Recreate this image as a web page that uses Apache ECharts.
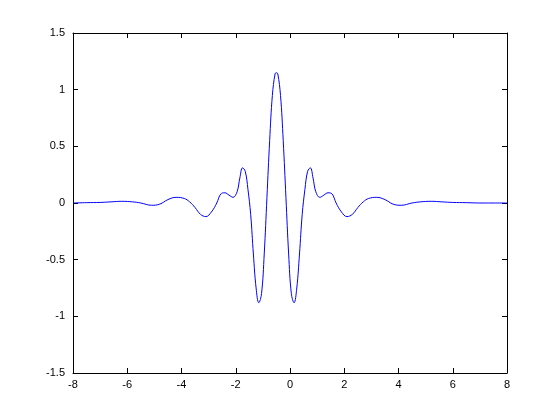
<!DOCTYPE html>
<html><head><meta charset="utf-8">
<script src="https://cdn.jsdelivr.net/npm/echarts@6/dist/echarts.min.js"></script>
<style>html,body{margin:0;background:#fff}#c{width:560px;height:420px}</style>
</head><body><div id="c"></div>
<script>
const xs = [-8,-7.5,-7,-6.6,-6.2,-5.8,-5.5,-5.1,-4.8,-4.5,-4.2,-3.9,-3.7,-3.5,-3.3,-3.1,-2.9,-2.7,-2.55,-2.4,-2.25,-2.1,-1.95,-1.85,-1.75,-1.65,-1.55,-1.45,-1.35,-1.25,-1.15,-1.05,-0.95,-0.85,-0.75,-0.65,-0.55,-0.5,
 -0.45,-0.35,-0.25,-0.15,-0.05,0.05,0.15,0.25,0.35,0.45,0.55,0.65,0.75,0.85,0.95,1.1,1.25,1.4,1.55,1.7,1.9,2.1,2.3,2.5,2.7,2.9,3.2,3.5,3.8,4.1,4.5,4.8,5.2,5.6,6,6.5,7,8];
const ys = [0,0.003,0.005,0.01,0.015,0.01,0,-0.02,-0.01,0.03,0.05,0.04,0.01,-0.04,-0.1,-0.12,-0.08,0,0.08,0.09,0.07,0.05,0.1,0.22,0.31,0.28,0.12,-0.1,-0.45,-0.75,-0.88,-0.8,-0.45,0.05,0.55,0.95,1.14,1.15,
 1.14,0.95,0.55,0.05,-0.45,-0.8,-0.88,-0.75,-0.45,-0.1,0.12,0.28,0.31,0.22,0.1,0.05,0.07,0.09,0.08,0,-0.08,-0.12,-0.1,-0.04,0.01,0.04,0.05,0.03,-0.01,-0.02,0,0.01,0.015,0.01,0.005,0.003,0,0];
const xTicks = [-8,-6,-4,-2,0,2,4,6,8];
const yTicks = [-1.5,-1,-0.5,0,0.5,1,1.5];
const font = {fontFamily:'Liberation Sans', fontSize:11, color:'#000'};
const axBase = {axisLine:{show:true,onZero:false,lineStyle:{color:'#000'}}, axisTick:{inside:true,length:5,lineStyle:{color:'#000'}}, splitLine:{show:false}};
const chart = echarts.init(document.getElementById('c'));
chart.setOption({
 animation:false,
 grid:{left:73,right:53,top:33,bottom:47},
 xAxis:[
  Object.assign({type:'value',min:-8,max:8,interval:2,position:'bottom',axisLabel:Object.assign({margin:6},font)},axBase),
  Object.assign({type:'value',min:-8,max:8,interval:2,position:'top',axisLabel:{show:false}},axBase)
 ],
 yAxis:[
  Object.assign({type:'value',min:-1.5,max:1.5,interval:0.5,position:'left',axisLabel:Object.assign({margin:8,formatter:v=>String(v)},font)},axBase),
  Object.assign({type:'value',min:-1.5,max:1.5,interval:0.5,position:'right',axisLabel:{show:false}},axBase)
 ],
 series:[{type:'line',data:xs.map((x,i)=>[x,ys[i]]),smooth:0.4,showSymbol:false,lineStyle:{color:'#0000ff',width:1}}]
});
</script></body></html>
